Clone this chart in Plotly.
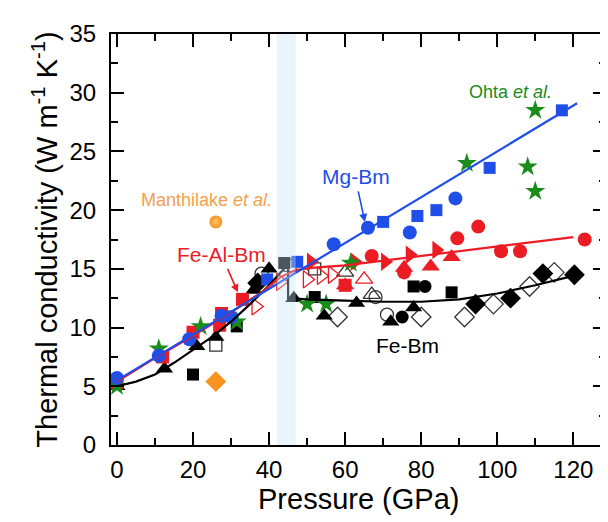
import plotly.graph_objects as go

# ---------------- data (pressure GPa, thermal conductivity W/m/K) ----------------
mg_circ_p = [0, 11, 19, 27.5, 30, 57, 66, 77, 89]
mg_circ_k = [5.7, 7.6, 9.0, 11.0, 10.9, 17.1, 18.5, 18.1, 21.0]
mg_sq_p = [39.5, 47.4, 70, 79, 84, 98, 117]
mg_sq_k = [14.1, 15.6, 19.0, 19.5, 20.0, 23.6, 28.5]

feal_sq_p = [0, 12, 20, 27, 27.5, 33, 60]
feal_sq_k = [5.3, 7.5, 9.6, 10.2, 11.2, 12.4, 13.6]
feal_rtri_p = [51, 62.5, 70.5, 77, 84]
feal_rtri_k = [15.6, 15.6, 15.6, 16.2, 16.6]
feal_rtri_open_p = [36.5, 43, 50, 53.7, 56.6]
feal_rtri_open_k = [11.8, 13.9, 14.1, 14.4, 14.5]
feal_tri_p = [60, 75.5, 82.5, 88]
feal_tri_k = [13.6, 15.1, 15.2, 16.0]
feal_tri_open_p = [65]
feal_tri_open_k = [14.1]
feal_circ_p = [67, 75.5, 89.5, 95, 101, 106, 123]
feal_circ_k = [16.1, 14.7, 17.6, 18.6, 16.5, 16.5, 17.5]

fe_tri_p = [0, 12.5, 21, 26, 36, 40, 46.5, 54.5, 63, 72, 78]
fe_tri_k = [5.0, 6.5, 8.4, 9.2, 13.2, 15.0, 12.5, 11.0, 12.1, 10.5, 11.7]
fe_tri_open_p = [60, 67]
fe_tri_open_k = [14.7, 12.8]
fe_sq_p = [20, 31.5, 44, 52, 78, 88]
fe_sq_k = [6.0, 10.1, 15.5, 12.6, 13.5, 13.0]
fe_sq_open_p = [26, 45.5, 52]
fe_sq_open_k = [8.5, 15.3, 15.0]
fe_circ_p = [75, 81]
fe_circ_k = [10.9, 13.5]
fe_circ_open_p = [38, 68, 71]
fe_circ_open_k = [14.6, 12.6, 11.1]
fe_dia_p = [37, 94.3, 103.5, 112, 120.3]
fe_dia_k = [13.8, 12.0, 12.5, 14.6, 14.5]
fe_dia_open_p = [58, 80, 91.4, 99, 108.5, 115]
fe_dia_open_k = [10.9, 10.9, 10.9, 12.0, 13.5, 14.7]

ohta_p = [0, 11, 22, 31.5, 50, 55, 61.5, 92, 108, 110, 110]
ohta_k = [5.0, 8.2, 10.1, 10.5, 12.0, 12.0, 15.5, 24.0, 23.7, 21.6, 28.5]

manth_circ_p = [26]
manth_circ_k = [19.0]
manth_dia_p = [26]
manth_dia_k = [5.4]

# fitted trend lines
mg_fit_p = [0, 121]
mg_fit_k = [5.5, 29.1]
feal_fit_p = [0, 10, 20, 30, 38, 43, 47, 52, 60, 80, 100, 120]
feal_fit_k = [5.4, 7.4, 9.3, 11.3, 13.0, 14.3, 14.9, 15.1, 15.3, 16.1, 16.9, 17.7]
fe_fit_p = [0, 5, 10, 15, 20, 25, 30, 35, 40, 45, 45, 50, 60, 70, 80, 90, 100, 110, 120]
fe_fit_k = [5.0, 5.4, 6.0, 7.0, 8.1, 9.2, 10.5, 12.0, 13.6, 15.4, 12.5, 12.4, 12.3, 12.2, 12.2, 12.4, 12.9, 13.6, 14.4]

band_p = [42, 47]

BLUE = "#1f4fe6"
RED = "#ec1c24"
GREEN = "#1a8c1a"
ORANGE = "#f7931e"
BLACK = "#000000"

fig = go.Figure()

def pts(x, y, sym, color, size, open_=False):
    m = dict(symbol=sym, size=size, color=color)
    if open_:
        m["line"] = dict(color=color, width=1.3)
    else:
        m["line"] = dict(width=0)
    fig.add_trace(go.Scatter(x=x, y=y, mode="markers", marker=m, showlegend=False, hoverinfo="skip"))

# black / Fe-Bm
pts(fe_dia_open_p, fe_dia_open_k, "diamond-open", "#333333", 15, True)
pts(fe_tri_open_p, fe_tri_open_k, "triangle-up-open", "#333333", 15, True)
pts(fe_sq_open_p, fe_sq_open_k, "square-open", "#333333", 12, True)
pts(fe_circ_open_p, fe_circ_open_k, "circle-open", "#333333", 13, True)
pts(fe_tri_p, fe_tri_k, "triangle-up", BLACK, 15)
pts(fe_sq_p, fe_sq_k, "square", BLACK, 12)
pts(fe_circ_p, fe_circ_k, "circle", BLACK, 13)
pts(fe_dia_p, fe_dia_k, "diamond", BLACK, 16)
# red / Fe-Al-Bm
pts(feal_rtri_open_p, feal_rtri_open_k, "triangle-right-open", RED, 15, True)
pts(feal_tri_open_p, feal_tri_open_k, "triangle-up-open", RED, 15, True)
pts(feal_sq_p, feal_sq_k, "square", RED, 13)
pts(feal_rtri_p, feal_rtri_k, "triangle-right", RED, 16)
pts(feal_tri_p, feal_tri_k, "triangle-up", RED, 16)
pts(feal_circ_p, feal_circ_k, "circle", RED, 14)
# green / Ohta
pts(ohta_p, ohta_k, "star", GREEN, 15)
# blue / Mg-Bm
pts(mg_sq_p, mg_sq_k, "square", BLUE, 12)
pts(mg_circ_p, mg_circ_k, "circle", BLUE, 14)
# orange / Manthilake
fig.add_trace(go.Scatter(x=manth_circ_p, y=manth_circ_k, mode="markers", showlegend=False, hoverinfo="skip",
                         marker=dict(symbol="circle", size=13, color=ORANGE,
                                     gradient=dict(type="radial", color="#ffc46a"), line=dict(width=0))))
pts(manth_dia_p, manth_dia_k, "diamond", ORANGE, 16)

# trend lines
fig.add_trace(go.Scatter(x=fe_fit_p, y=fe_fit_k, mode="lines", line=dict(color=BLACK, width=2.2),
                         showlegend=False, hoverinfo="skip"))
fig.add_trace(go.Scatter(x=feal_fit_p, y=feal_fit_k, mode="lines", line=dict(color=RED, width=2.2),
                         showlegend=False, hoverinfo="skip"))
fig.add_trace(go.Scatter(x=mg_fit_p, y=mg_fit_k, mode="lines", line=dict(color=BLUE, width=2.2),
                         showlegend=False, hoverinfo="skip"))

# transition band
fig.add_vrect(x0=band_p[0], x1=band_p[1], fillcolor="rgb(200,225,245)", opacity=0.38,
              line_width=0, layer="above")

FONT = "Arial, Liberation Sans, sans-serif"

anns = [
    dict(x=65.2, y=19.0, ax=-7, ay=-32, text="", showarrow=True, arrowhead=2, arrowsize=1,
         arrowwidth=1.6, arrowcolor=BLUE, xref="x", yref="y"),
    dict(x=31.8, y=13.0, ax=-11, ay=-25, text="", showarrow=True, arrowhead=2, arrowsize=1,
         arrowwidth=1.6, arrowcolor=RED, xref="x", yref="y"),
    dict(x=62.9, y=22.9, text="Mg-Bm", showarrow=False, font=dict(family=FONT, size=21, color=BLUE),
         xref="x", yref="y"),
    dict(x=27.5, y=16.2, text="Fe-Al-Bm", showarrow=False, font=dict(family=FONT, size=21, color=RED),
         xref="x", yref="y"),
    dict(x=23.5, y=20.9, text="Manthilake <i>et al.</i>", showarrow=False,
         font=dict(family=FONT, size=18, color="#f5a04c"), xref="x", yref="y"),
    dict(x=103.5, y=30.1, text="Ohta <i>et al.</i>", showarrow=False,
         font=dict(family=FONT, size=18, color=GREEN), xref="x", yref="y"),
    dict(x=76.5, y=8.5, text="Fe-Bm", showarrow=False, font=dict(family=FONT, size=21, color=BLACK),
         xref="x", yref="y"),
    dict(x=-0.135, y=0.5, xref="paper", yref="paper", textangle=-90, showarrow=False,
         text="Thermal conductivity (W m<sup>-1</sup> K<sup>-1</sup>)",
         font=dict(family=FONT, size=29, color=BLACK), xanchor="center", yanchor="middle"),
    dict(x=0.5, y=-0.132, xref="paper", yref="paper", showarrow=False, text="Pressure (GPa)",
         font=dict(family=FONT, size=29, color=BLACK), xanchor="center", yanchor="middle"),
]

axis_common = dict(showline=True, linecolor=BLACK, linewidth=2, mirror="allticks", ticks="inside",
                   ticklen=13, tickwidth=2, tickcolor=BLACK, showgrid=False, zeroline=False,
                   tickfont=dict(family=FONT, size=24, color=BLACK))

# page body has an 8px default margin, so the figure is offset by 8px
fig.update_layout(
    width=600, height=514,
    margin=dict(l=103, r=0, t=26, b=77),
    paper_bgcolor="white", plot_bgcolor="white",
    xaxis=dict(range=[-1.57, 128.6], tickvals=[0, 20, 40, 60, 80, 100, 120],
               minor=dict(tickvals=[10, 30, 50, 70, 90, 110], ticklen=7, tickwidth=2,
                          tickcolor=BLACK, ticks="inside"), **axis_common),
    yaxis=dict(range=[0, 35], tickvals=[0, 5, 10, 15, 20, 25, 30, 35],
               minor=dict(tickvals=[2.5, 7.5, 12.5, 17.5, 22.5, 27.5, 32.5], ticklen=7, tickwidth=2,
                          tickcolor=BLACK, ticks="inside"), **axis_common),
    annotations=anns,
    showlegend=False,
)
fig.update_xaxes(ticklabelstandoff=2)
fig.update_yaxes(ticklabelstandoff=8)

fig.write_html("out.html")
